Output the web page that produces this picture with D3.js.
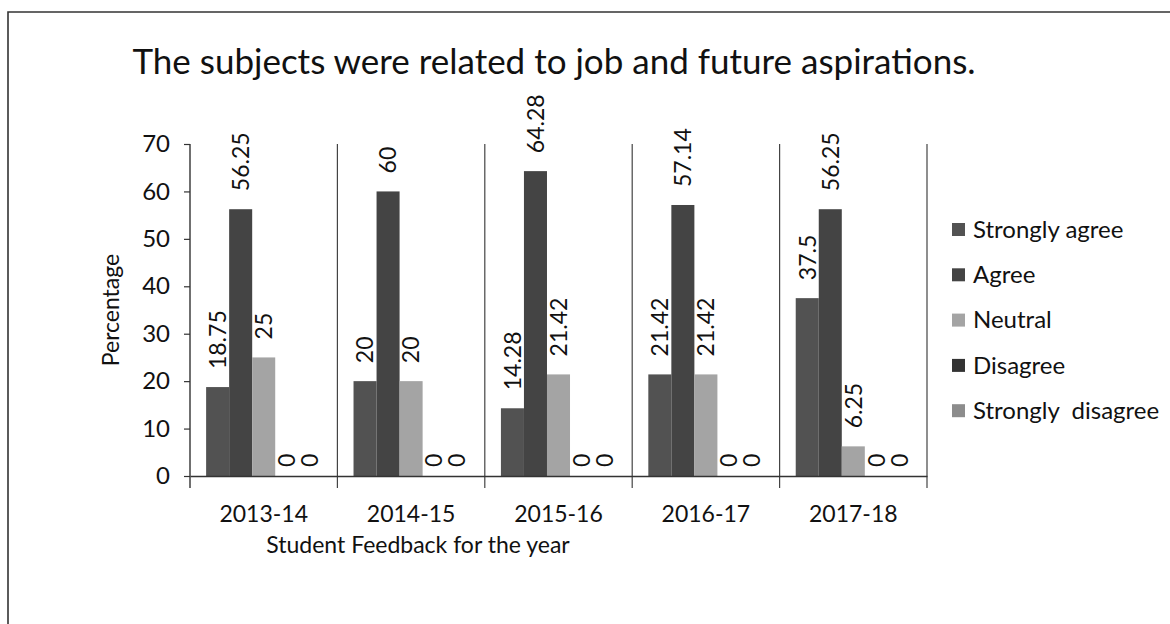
<!DOCTYPE html>
<html>
<head>
<meta charset="utf-8">
<script src="https://cdn.jsdelivr.net/npm/d3@7"></script>
<style>
  html, body { margin: 0; padding: 0; background: #fff; }
  svg { display: block; }
  text { font-family: Lato, "Open Sans", "Liberation Sans", sans-serif; fill: #111; }
</style>
</head>
<body>
<svg id="chart" width="1170" height="624"></svg>
<script>
// ---- data ----
const years = ["2013-14", "2014-15", "2015-16", "2016-17", "2017-18"];
const seriesNames = ["Strongly agree", "Agree", "Neutral", "Disagree", "Strongly  disagree"];
const stronglyAgree   = [18.75, 20, 14.28, 21.42, 37.5];
const agree           = [56.25, 60, 64.28, 57.14, 56.25];
const neutral         = [25, 20, 21.42, 21.42, 6.25];
const disagree        = [0, 0, 0, 0, 0];
const stronglyDisagree = [0, 0, 0, 0, 0];
const yTicks = [0, 10, 20, 30, 40, 50, 60, 70];
const titleText = "The subjects were related to job and future aspirations.";
const xTitle = "Student Feedback for the year";
const yTitle = "Percentage";

const seriesValues = [stronglyAgree, agree, neutral, disagree, stronglyDisagree];
const colors = ["#525252", "#444444", "#a4a4a4", "#333333", "#8c8c8c"];

const svg = d3.select("#chart");

// subtle grain to mimic the scanned print
const defs = svg.append("defs");
const f = defs.append("filter").attr("id", "grain").attr("x", 0).attr("y", 0).attr("width", 1).attr("height", 1);
f.append("feTurbulence").attr("type", "fractalNoise").attr("baseFrequency", 0.9).attr("numOctaves", 1).attr("seed", 3).attr("result", "noise");
f.append("feColorMatrix").attr("in", "noise").attr("type", "matrix")
  .attr("values", "0 0 0 0 0  0 0 0 0 0  0 0 0 0 0  0 0 0 -0.9 0.55").attr("result", "spots");
f.append("feComposite").attr("in", "spots").attr("in2", "SourceGraphic").attr("operator", "in").attr("result", "spotsIn");
f.append("feBlend").attr("in", "SourceGraphic").attr("in2", "spotsIn").attr("mode", "normal");

// frame of the scanned page
svg.append("path")
  .attr("d", "M8,624 L8,12 L1170,12")
  .attr("fill", "none").attr("stroke", "#333").attr("stroke-width", 1.6);

// title
svg.append("text")
  .attr("x", 554).attr("y", 74)
  .attr("text-anchor", "middle")
  .style("font-size", "35px")
  .text(titleText);

const y = d3.scaleLinear().domain([0, 70]).range([476, 144]);
const x0 = d3.scaleBand().domain(years).range([190, 927]).paddingInner(0).paddingOuter(0);
const x1 = d3.scaleBand().domain(seriesNames).range([0, x0.bandwidth()]).paddingInner(0).paddingOuter(0.7);

// vertical category separators (gridlines) incl. ticks below axis
const bounds = years.map(d => x0(d)).concat([x0.range()[1]]);
svg.append("g").selectAll("line").data(bounds.slice(1)).join("line")
  .attr("x1", d => d).attr("x2", d => d)
  .attr("y1", y(70)).attr("y2", y(0) + 12)
  .attr("stroke", "#444").attr("stroke-width", 1.2);

// bars
const data = [];
years.forEach((yr, i) => {
  seriesNames.forEach((s, j) => {
    data.push({ year: yr, series: s, value: seriesValues[j][i], color: colors[j] });
  });
});

svg.append("g").selectAll("rect").data(data).join("rect")
  .attr("x", d => x0(d.year) + x1(d.series))
  .attr("y", d => y(d.value))
  .attr("width", x1.bandwidth())
  .attr("height", d => y(0) - y(d.value))
  .attr("fill", d => d.color);

// y axis
const yAxis = d3.axisLeft(y).tickValues(yTicks).tickSize(6).tickPadding(14).tickFormat(d3.format("d"));
const gy = svg.append("g").attr("transform", "translate(190,0)").call(yAxis);
gy.select(".domain").remove();
gy.selectAll(".tick line").attr("stroke", "#333").attr("stroke-width", 1.2);
gy.selectAll(".tick text").style("font-size", "24px").attr("fill", "#111")
  .style("font-family", "Lato, 'Open Sans', sans-serif");
svg.append("line").attr("x1", 190).attr("x2", 190).attr("y1", y(70)).attr("y2", y(0) + 12)
  .attr("stroke", "#333").attr("stroke-width", 1.4);

// x axis
const xAxis = d3.axisBottom(x0).tickSize(0).tickPadding(30);
const gx = svg.append("g").attr("transform", `translate(0,${y(0)})`).call(xAxis);
gx.select(".domain").attr("stroke", "#333").attr("stroke-width", 1.6);
gx.selectAll(".tick text").style("font-size", "23px").attr("fill", "#111")
  .style("font-family", "Lato, 'Open Sans', sans-serif");

// data labels (rotated)
svg.append("g").selectAll("text").data(data).join("text")
  .attr("transform", d => {
    const cx = x0(d.year) + x1(d.series) + x1.bandwidth() / 2;
    const off = d.value === 0 ? 9 : 18;
    return `translate(${cx},${y(d.value) - off}) rotate(-90)`;
  })
  .attr("dy", "0.36em")
  .attr("text-anchor", "start")
  .style("font-size", "23px")
  .text(d => String(d.value));

// axis titles
svg.append("text")
  .attr("transform", "translate(119,310) rotate(-90)")
  .attr("text-anchor", "middle")
  .style("font-size", "23px")
  .text(yTitle);

svg.append("text")
  .attr("x", 418).attr("y", 553)
  .attr("text-anchor", "middle")
  .style("font-size", "23px")
  .text(xTitle);

// legend
const legend = svg.append("g").selectAll("g").data(seriesNames).join("g")
  .attr("transform", (d, i) => `translate(952,${229 + i * 45.3})`);
legend.append("rect").attr("x", 0).attr("y", -6).attr("width", 13).attr("height", 13)
  .attr("fill", (d, i) => colors[i]);
legend.append("text").attr("x", 21).attr("y", 0).attr("dy", "0.36em")
  .style("font-size", "24px")
  .attr("xml:space", "preserve")
  .style("white-space", "pre")
  .text(d => d);
</script>
</body>
</html>
